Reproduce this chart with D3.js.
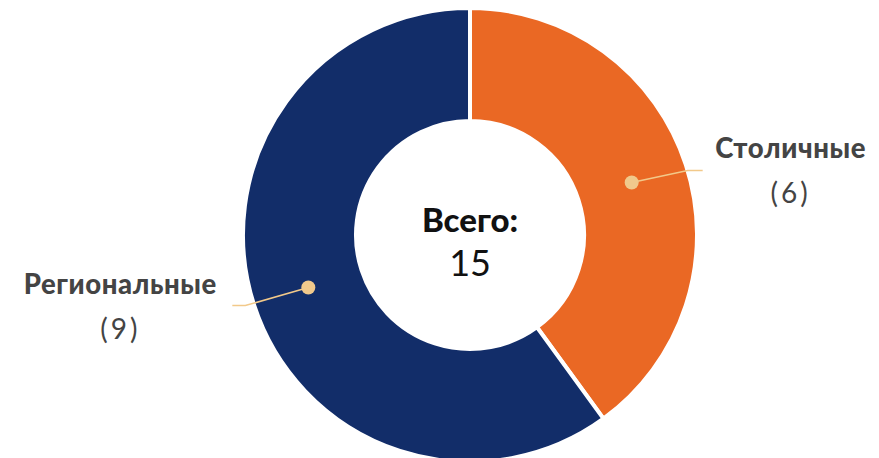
<!DOCTYPE html>
<html>
<head>
<meta charset="utf-8">
<script src="https://cdn.jsdelivr.net/npm/d3@7"></script>
<style>
  html, body { margin: 0; padding: 0; background: #fff; }
  svg { display: block; }
</style>
</head>
<body>
<svg id="chart" width="879" height="458"></svg>
<script>
// Segment data
const categories = ["Столичные", "Региональные"];
const values = [6, 9];
const colors = ["#EA6824", "#122D69"];
const totalLabel = "Всего:";

const width = 879, height = 458;
const cx = 470, cy = 235;
const outerR = 227, innerR = 114;

const svg = d3.select("#chart");
const g = svg.append("g").attr("transform", `translate(${cx},${cy})`);

const data = categories.map((c, i) => ({ name: c, value: values[i], color: colors[i] }));
const total = d3.sum(values);

const pie = d3.pie().value(d => d.value).sort(null);
const arc = d3.arc().innerRadius(innerR).outerRadius(outerR);
const arcs = pie(data);

g.selectAll("path.slice")
  .data(arcs)
  .join("path")
  .attr("class", "slice")
  .attr("d", arc)
  .attr("fill", d => d.data.color)
  .attr("stroke", "#fff")
  .attr("stroke-width", 4)
  .attr("stroke-linejoin", "miter");

// Leader lines: from slice centroid, out to an elbow, then a short horizontal run
const labelArc = d3.arc().innerRadius(170).outerRadius(170);
const leaderColor = "#F2C98A";
const leaders = arcs.map(d => {
  const c = labelArc.centroid(d);
  const right = c[0] > 0;
  const elbow = right ? [c[0] + 56, c[1] - 12] : [c[0] - 63, c[1] + 18];
  const end = right ? [elbow[0] + 15, elbow[1]] : [elbow[0] - 13, elbow[1]];
  return { d, c, elbow, end, right };
});

g.selectAll("polyline.leader")
  .data(leaders)
  .join("polyline")
  .attr("class", "leader")
  .attr("points", l => [l.c, l.elbow, l.end].map(p => p.join(",")).join(" "))
  .attr("fill", "none")
  .attr("stroke", leaderColor)
  .attr("stroke-width", 1.6);

g.selectAll("circle.dot")
  .data(leaders)
  .join("circle")
  .attr("class", "dot")
  .attr("cx", l => l.c[0])
  .attr("cy", l => l.c[1])
  .attr("r", 7)
  .attr("fill", "#F0C98C");

// Category labels with counts
const labelFont = "Lato, 'Open Sans', sans-serif";
const lbl = g.selectAll("g.lbl")
  .data(leaders)
  .join("g")
  .attr("class", "lbl")
  .attr("transform", l => l.right
      ? `translate(${l.end[0] + 88},${l.end[1]})`
      : `translate(${l.end[0] - 112},${l.end[1]})`);

lbl.append("text")
  .attr("text-anchor", "middle")
  .attr("y", -12)
  .attr("font-family", labelFont)
  .attr("font-weight", 900)
  .attr("font-size", 27.5)
  .attr("letter-spacing", 0.6)
  .attr("fill", "#444")
  .text(l => l.d.data.name);

lbl.append("text")
  .attr("text-anchor", "middle")
  .attr("y", 33)
  .attr("font-family", labelFont)
  .attr("font-weight", 400)
  .attr("font-size", 28)
  .attr("letter-spacing", 3)
  .attr("fill", "#444")
  .text(l => `(${l.d.data.value})`);

// Center total
g.append("text")
  .attr("text-anchor", "middle")
  .attr("y", -3)
  .attr("font-family", "Lato, sans-serif")
  .attr("font-weight", 900)
  .attr("font-size", 33)
  .attr("fill", "#111")
  .text(totalLabel);

g.append("text")
  .attr("text-anchor", "middle")
  .attr("y", 41)
  .attr("font-family", "Lato, sans-serif")
  .attr("font-weight", 400)
  .attr("font-size", 36)
  .attr("fill", "#111")
  .text(total);
</script>
</body>
</html>
